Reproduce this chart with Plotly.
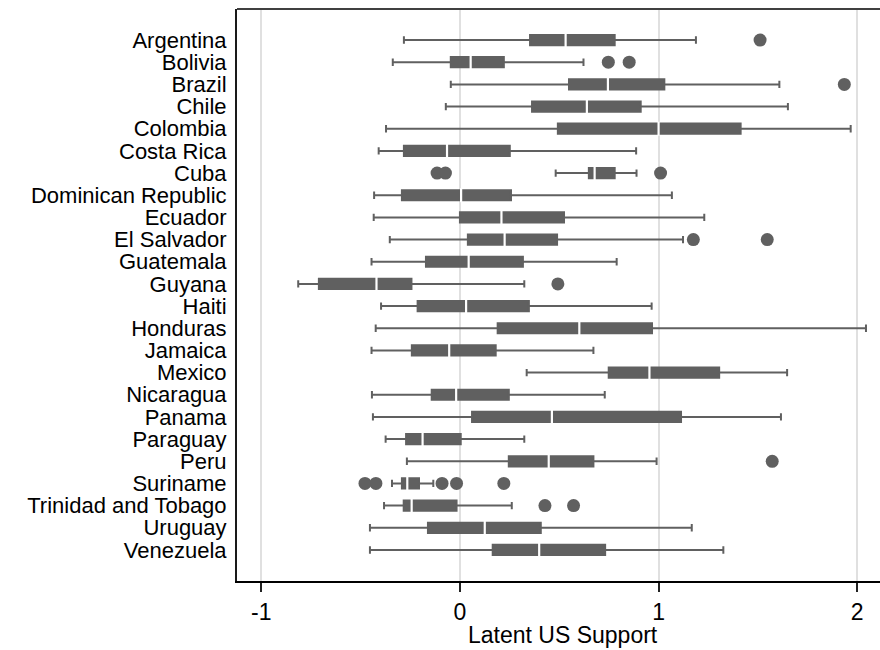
import plotly.graph_objects as go

# Country-level distribution of latent US support (box summaries)
countries = [
    "Argentina", "Bolivia", "Brazil", "Chile", "Colombia", "Costa Rica", "Cuba",
    "Dominican Republic", "Ecuador", "El Salvador", "Guatemala", "Guyana", "Haiti",
    "Honduras", "Jamaica", "Mexico", "Nicaragua", "Panama", "Paraguay", "Peru",
    "Suriname", "Trinidad and Tobago", "Uruguay", "Venezuela",
]
lower_whisker = [-0.282, -0.338, -0.046, -0.071, -0.372, -0.409, 0.482, -0.432,
                 -0.434, -0.353, -0.445, -0.814, -0.397, -0.424, -0.445, 0.336,
                 -0.443, -0.438, -0.374, -0.267, -0.342, -0.382, -0.453, -0.453]
q1 = [0.353, -0.046, 0.549, 0.363, 0.493, -0.282, 0.649, -0.292,
      0.000, 0.040, -0.171, -0.710, -0.213, 0.190, -0.242, 0.749,
      -0.142, 0.061, -0.271, 0.246, -0.292, -0.283, -0.161, 0.165]
median = [0.532, 0.054, 0.745, 0.639, 1.000, -0.065, 0.678, 0.006,
          0.209, 0.225, 0.044, -0.420, 0.031, 0.601, -0.054, 0.954,
          -0.019, 0.463, -0.188, 0.447, -0.265, -0.243, 0.125, 0.399]
q3 = [0.779, 0.221, 1.029, 0.910, 1.413, 0.251, 0.779, 0.257,
      0.524, 0.489, 0.317, -0.244, 0.347, 0.967, 0.180, 1.305,
      0.246, 1.113, 0.004, 0.672, -0.206, -0.017, 0.407, 0.731]
upper_whisker = [1.188, 0.622, 1.608, 1.651, 1.967, 0.887, 0.889, 1.067,
                 1.230, 1.123, 0.789, 0.324, 0.965, 2.044, 0.672, 1.647,
                 0.729, 1.616, 0.324, 0.990, -0.134, 0.261, 1.167, 1.326]

# Observations beyond the whiskers
outlier_country = [
    "Argentina", "Bolivia", "Bolivia", "Brazil", "Cuba", "Cuba", "Cuba",
    "El Salvador", "El Salvador", "Guyana", "Peru",
    "Suriname", "Suriname", "Suriname", "Suriname", "Suriname",
    "Trinidad and Tobago", "Trinidad and Tobago",
]
outlier_value = [
    1.511, 0.747, 0.852, 1.935, -0.115, -0.073, 1.010,
    1.175, 1.547, 0.493, 1.572,
    -0.478, -0.423, -0.090, -0.017, 0.221,
    0.428, 0.572,
]

x_ticks = [-1, 0, 1, 2]
x_tick_labels = ["-1", "0", "1", "2"]

BOX_GRAY = "#606060"
FONT = "Liberation Sans, Arial, Helvetica, sans-serif"
LABEL_SIZE = 22
AXIS_SIZE = 23

fig = go.Figure()

fig.add_trace(go.Box(
    y=countries,
    q1=q1, median=median, q3=q3,
    lowerfence=lower_whisker, upperfence=upper_whisker,
    orientation="h",
    boxpoints=False,
    fillcolor=BOX_GRAY,
    line=dict(color=BOX_GRAY, width=2),
    width=0.46,
    whiskerwidth=0.72,
    hoverinfo="skip",
    showlegend=False,
))

# White median ticks drawn over the boxes
fig.add_trace(go.Scatter(
    x=median, y=countries,
    mode="markers",
    marker=dict(symbol="line-ns", size=10,
                line=dict(color="white", width=2.2)),
    hoverinfo="skip",
    showlegend=False,
))

fig.add_trace(go.Scatter(
    x=outlier_value, y=outlier_country,
    mode="markers",
    marker=dict(symbol="circle", size=13, color=BOX_GRAY,
                line=dict(width=0)),
    hoverinfo="skip",
    showlegend=False,
))

fig.update_layout(
    width=880, height=650,
    margin=dict(l=237, r=0, t=9, b=69),
    paper_bgcolor="white",
    plot_bgcolor="white",
    font=dict(family=FONT, size=AXIS_SIZE, color="black"),
    xaxis=dict(
        range=[-1.1222, 2.1146],
        tickmode="array", tickvals=x_ticks, ticktext=x_tick_labels,
        showgrid=True, gridcolor="#e0e0e0", gridwidth=2,
        zeroline=False,
        showline=True, linecolor="black", linewidth=2,
        ticks="outside", ticklen=9, tickwidth=2, tickcolor="#222222",
        tickfont=dict(family=FONT, size=AXIS_SIZE, color="black"),
    ),
    yaxis=dict(
        type="category",
        categoryorder="array", categoryarray=countries,
        tickmode="array", tickvals=countries, ticktext=countries,
        range=[24.40, -1.40],
        showgrid=False, zeroline=False,
        showline=True, linecolor="#1a1a1a", linewidth=2,
        ticks="", ticklabelstandoff=4,
        tickfont=dict(family=FONT, size=LABEL_SIZE, color="black"),
    ),
    shapes=[dict(type="line", xref="paper", yref="paper",
                 x0=0, x1=1, y0=1, y1=1,
                 line=dict(color="#404040", width=2))],
    annotations=[dict(
        text="Latent US Support", xref="paper", yref="paper",
        x=0.507, y=-0.094, xanchor="center", yanchor="middle",
        showarrow=False, font=dict(family=FONT, size=AXIS_SIZE, color="black"),
    )],
)

fig.write_html("out.html")
